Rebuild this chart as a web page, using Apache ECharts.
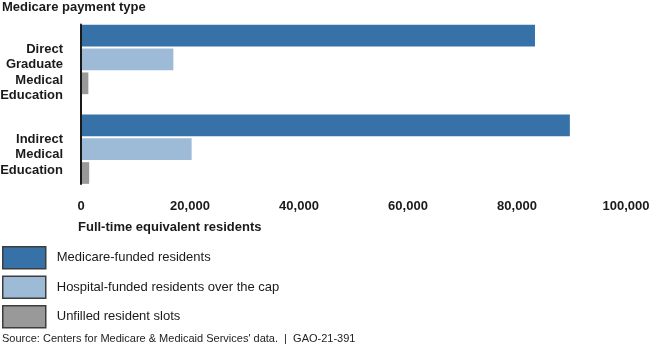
<!DOCTYPE html>
<html>
<head>
<meta charset="utf-8">
<script src="https://cdn.jsdelivr.net/npm/echarts@6/dist/echarts.min.js"></script>
<style>
html,body{margin:0;padding:0;background:#fff;}
#c{width:650px;height:346px;}
</style>
</head>
<body>
<div id="c"></div>
<script>
var categories = ['Direct\nGraduate\nMedical\nEducation', 'Indirect\nMedical\nEducation'];
var seriesNames = ['Medicare-funded residents', 'Hospital-funded residents over the cap', 'Unfilled resident slots'];
var medicareFunded = [83300, 89700];
var hospitalFunded = [16950, 20300];
var unfilledSlots = [1350, 1500];
var xTicks = [0, 20000, 40000, 60000, 80000, 100000];
var colors = ['#3671a8', '#9dbbd7', '#999999'];

var FONT = '"Liberation Sans", Arial, sans-serif';
var chart = echarts.init(document.getElementById('c'), null, {renderer: 'canvas'});

function labelFmt(v) {
  var lines = v.split('\n');
  var spacer = lines.length === 4 ? '{s1| }' : '{s2| }';
  return spacer + '\n' + lines.map(function (l) { return '{n|' + l + '}'; }).join('\n');
}

var option = {
  backgroundColor: '#ffffff',
  animation: false,
  textStyle: {fontFamily: FONT},
  title: [
    {text: 'Medicare payment type', left: 2, top: 1, padding: 0, textStyle: {fontFamily: FONT, fontSize: 13, fontWeight: 'bold', color: '#1a1a1a'}},
    {text: 'Full-time equivalent residents', left: 78, top: 221, padding: 0, textStyle: {fontFamily: FONT, fontSize: 13, fontWeight: 'bold', color: '#1a1a1a'}},
    {text: "Source: Centers for Medicare & Medicaid Services' data.  |  GAO-21-391", left: 2, top: 333, padding: 0, textStyle: {fontFamily: FONT, fontSize: 11, fontWeight: 'normal', color: '#222'}}
  ],
  legend: {
    orient: 'vertical', left: 2, top: 246, padding: 0,
    icon: 'rect', itemWidth: 43, itemHeight: 22, itemGap: 6,
    itemStyle: {borderColor: '#3d3d3d', borderWidth: 1.5},
    textStyle: {fontFamily: FONT, fontSize: 13, color: '#1a1a1a', padding: [0, 0, 0, 6]},
    data: seriesNames
  },
  grid: [
    {left: 81, right: 24, top: 14.6, height: 179.4, containLabel: false, outerBoundsMode: 'none'},
    {left: 80.5, right: 24, top: 24.5, height: 159.5, containLabel: false, outerBoundsMode: 'none'}
  ],
  xAxis: [
    {
      type: 'value', gridIndex: 0, min: xTicks[0], max: xTicks[xTicks.length - 1], interval: 20000,
      axisLine: {show: false}, axisTick: {show: false}, splitLine: {show: false},
      axisLabel: {margin: 6, fontFamily: FONT, fontSize: 13, fontWeight: 'bold', color: '#1a1a1a'}
    },
    {type: 'value', gridIndex: 1, show: false, min: 0, max: 1}
  ],
  yAxis: [
    {
      type: 'category', gridIndex: 0, inverse: true, data: categories,
      axisLine: {show: false}, axisTick: {show: false},
      axisLabel: {
        margin: 18, align: 'right', formatter: labelFmt,
        fontFamily: FONT, fontSize: 13, fontWeight: 'bold', color: '#1a1a1a', lineHeight: 15.5,
        rich: {
          s1: {fontSize: 1, lineHeight: 26},
          s2: {fontSize: 1, lineHeight: 11},
          n: {fontFamily: FONT, fontSize: 13, fontWeight: 'bold', color: '#1a1a1a', lineHeight: 15.5}
        }
      }
    },
    {
      type: 'category', gridIndex: 1, data: [''], z: 10,
      axisLine: {show: true, lineStyle: {color: '#1a1a1a', width: 2}},
      axisTick: {show: false}, axisLabel: {show: false}
    }
  ],
  series: [
    {name: seriesNames[0], type: 'bar', xAxisIndex: 0, yAxisIndex: 0, data: medicareFunded, itemStyle: {color: colors[0]}, barGap: '10%', barCategoryGap: '22.6%'},
    {name: seriesNames[1], type: 'bar', xAxisIndex: 0, yAxisIndex: 0, data: hospitalFunded, itemStyle: {color: colors[1]}, barGap: '10%', barCategoryGap: '22.6%'},
    {name: seriesNames[2], type: 'bar', xAxisIndex: 0, yAxisIndex: 0, data: unfilledSlots, itemStyle: {color: colors[2]}, barGap: '10%', barCategoryGap: '22.6%'},
    {type: 'bar', xAxisIndex: 1, yAxisIndex: 1, data: [], silent: true}
  ]
};
chart.setOption(option);
</script>
</body>
</html>
